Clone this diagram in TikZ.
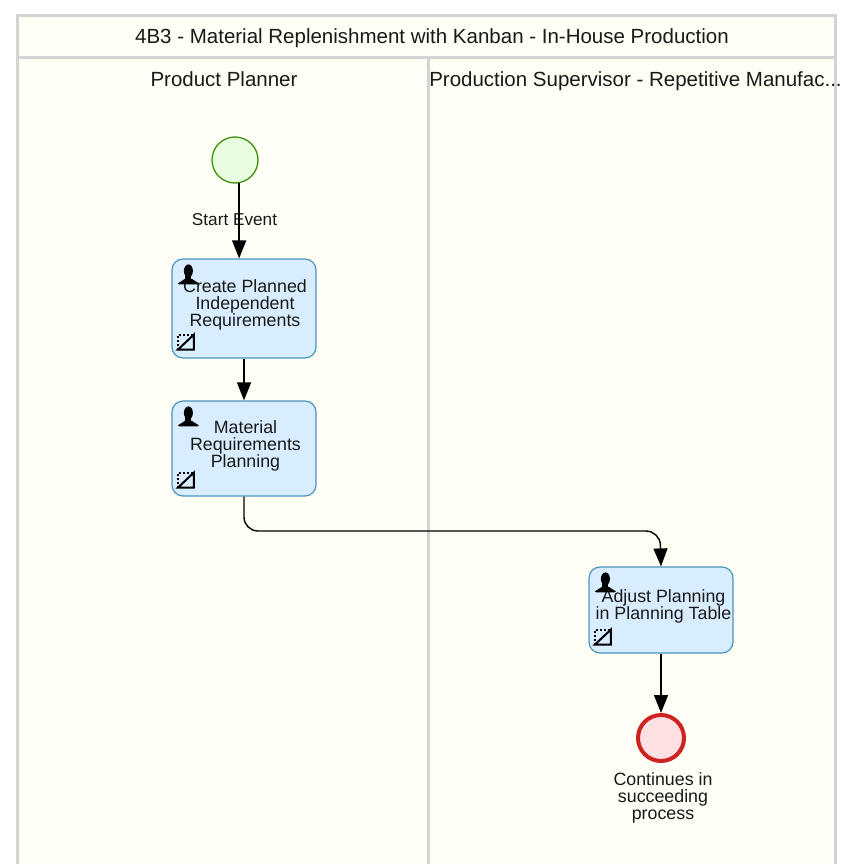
\documentclass[tikz,border=0pt]{standalone}
\usepackage{fontspec}
\setmainfont{Liberation Sans}
\usetikzlibrary{arrows.meta}
\definecolor{laneframe}{HTML}{D3D3D3}
\definecolor{lanefill}{HTML}{FFFFF5}
\definecolor{taskfill}{HTML}{D8EDFF}
\definecolor{taskline}{HTML}{4A94BE}
\definecolor{startfill}{HTML}{E8FCDF}
\definecolor{startline}{HTML}{3F8F0F}
\definecolor{endfill}{HTML}{FFE0E2}
\definecolor{endline}{HTML}{CC2222}
\tikzstyle{lane} = [draw=laneframe, line width=3pt, fill=lanefill]
\tikzstyle{lanetitle} = [font=\fontsize{20.5}{24}\selectfont, anchor=base, inner sep=0pt, text=black!90]
\tikzstyle{task} = [
	rectangle,
	rounded corners=11pt,
	minimum width=144pt,
	inner sep=0pt,
	draw=taskline,
	line width=1.2pt,
	fill=taskfill
]
\tikzstyle{tasktext} = [
	font=\fontsize{17.8}{17}\selectfont,
	align=center,
	inner sep=0pt,
	text=black!90
]
\tikzstyle{startevent} = [circle, minimum size=46pt, inner sep=0pt, draw=startline, line width=1.3pt, fill=startfill]
\tikzstyle{endevent} = [circle, minimum size=46pt, inner sep=0pt, draw=endline, line width=4pt, fill=endfill]
\tikzstyle{arrow} = [line width=1.4pt, -{Triangle[length=18pt,width=14pt]}]
\tikzset{
	personicon/.pic={
		\fill (0,-4) ellipse (4.5 and 6.5);
		\fill (-3,0) rectangle (3,5);
		\fill (-3.5,4) -- (-10.5,8.5) -- (-9,9.5) -- (9,9.5) -- (10.5,8.5) -- (3.5,4) -- cycle;
	},
	markicon/.pic={
		\draw [line width=2pt] (16,0) -- (16,15) -- (0,15) -- cycle;
		\draw [line width=2pt, dotted, line cap=butt] (0,15) -- (0,0) -- (16,0);
	}
}
\begin{document}
\begin{tikzpicture}[x=1pt, y=-1pt]
    \clip (0, 0) rectangle (841, 864);
    % lanes
    \draw [lane] (17.5, 15.5) rectangle (835, 900);
    \draw [draw=laneframe, line width=3pt] (17.5, 58) -- (835, 58);
    \draw [draw=laneframe, line width=3pt] (428, 58) -- (428, 900);
    \node [lanetitle] (title) at (432, 44) {4B3 - Material Replenishment with Kanban - In-House Production};
    \node [lanetitle] (planner) at (224, 87) {Product Planner};
    \node [lanetitle] (supervisor) at (635.5, 87) {Production Supervisor - Repetitive Manufac...};
    % events and tasks
    \node [startevent] (start) at (235, 160) {};
    \node [task, minimum height=99pt] (create) at (244, 308.5) {};
    \node [task, minimum height=95pt] (material) at (244, 448.5) {};
    \node [task, minimum height=86pt] (adjust) at (661, 610) {};
    \node [endevent] (end) at (661, 738) {};
    \node [tasktext, font=\fontsize{17.2}{17}\selectfont] (start label) at (234.5, 219.5) {Start Event};
    \node [tasktext] (create label) at ([xshift=1pt, yshift=4pt]create.center) {Create Planned\\Independent\\Requirements};
    \node [tasktext] (material label) at ([xshift=1.5pt, yshift=2.5pt]material.center) {Material\\Requirements\\Planning};
    \node [tasktext] (adjust label) at ([xshift=2.5pt, yshift=4pt]adjust.center) {Adjust Planning\\in Planning Table};
    \node [tasktext] (end label) at (663, 797.5) {Continues in\\succeeding\\process};
    % icons
    \foreach \t in {create, material, adjust} {
      \path (\t.north west) ++(17, 16.5) pic {personicon};
    }
    \path (create.south west) ++(6.5, -24) pic {markicon};
    \path (material.south west) ++(6.5, -24) pic {markicon};
    \path (adjust.south west) ++(6.5, -24) pic {markicon};
    % flows
    \coordinate (bend) at (660, 531);
    \draw [arrow] (start.-80) -- (start.-80 |- create.north);
    \draw [arrow] (create) -- (material);
    \draw [arrow, rounded corners=14pt] (material.south) |- (bend) -- (adjust.north);
    \draw [arrow] (adjust) -- (end);
\end{tikzpicture}
\end{document}
